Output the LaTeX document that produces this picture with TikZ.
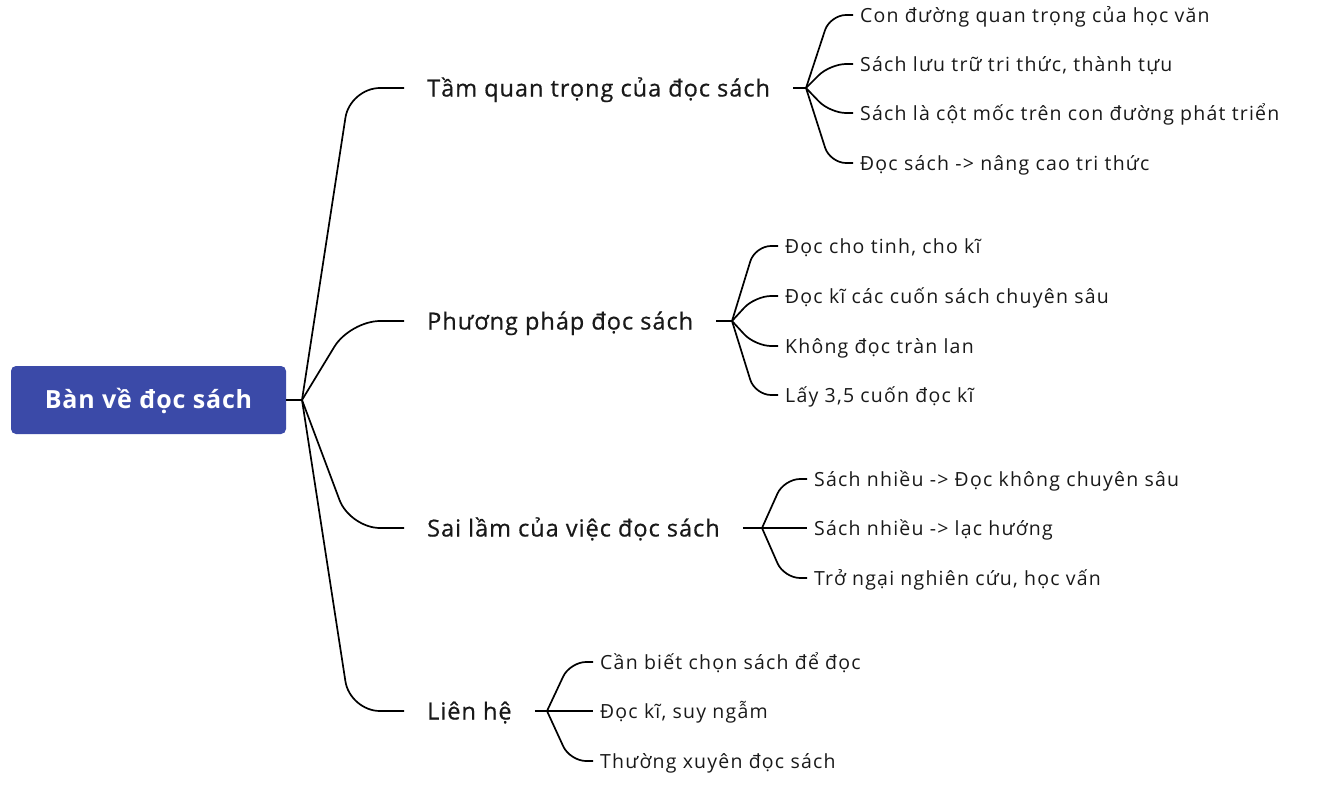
\documentclass[tikz,border=0pt]{standalone}
\usepackage{fontspec}
\setmainfont{Open Sans}
\newfontfamily\leaffont[LetterSpace=6.2]{Open Sans}
\newfontfamily\mainfont[LetterSpace=4.2,FakeBold=0.6]{Open Sans}
\newfontfamily\rootfont[LetterSpace=3.3]{Open Sans}
\usetikzlibrary{calc}
\definecolor{rootblue}{RGB}{59,74,168}
\definecolor{ink}{RGB}{25,25,25}
\tikzset{
  link/.style={line width=1.7pt, draw=black, rounded corners=30pt},
  leaflink/.style={line width=1.7pt, draw=black, rounded corners=16pt},
  rootbox/.style={fill=rootblue, rounded corners=5pt, minimum width=275pt, minimum height=68pt,
    text=white, font=\rootfont\fontsize{25}{28}\selectfont\bfseries, inner sep=0pt, text height=19pt, text depth=3pt},
  mainnode/.style={anchor=west, inner xsep=23pt, inner ysep=0pt, text=ink,
    font=\mainfont\fontsize{23.5}{26}\selectfont, text height=20pt, text depth=3pt},
  leafnode/.style={anchor=west, inner xsep=7pt, inner ysep=0pt, text=ink,
    font=\leaffont\fontsize{19.5}{23}\selectfont, text height=17pt, text depth=3pt},
}
\begin{document}
\begin{tikzpicture}[x=1pt,y=-1pt]
\useasboundingbox (0,0) rectangle (1327,787);
% root
\node[rootbox] (root) at (148.5,400) {Bàn về đọc sách};
\coordinate (jr) at (302,400);
\draw[link] (root.east) -- (jr);
% main branches
\node[mainnode] (t) at (404,88) {Tầm quan trọng của đọc sách};
\node[mainnode] (p) at (404,321) {Phương pháp đọc sách};
\node[mainnode] (s) at (404,528) {Sai lầm của việc đọc sách};
\node[mainnode] (l) at (404,711) {Liên hệ};
\foreach \n in {t,p,s,l}{
  \draw[link] (jr) -- ([xshift=-54pt]\n.west) -- (\n.west);
}
% junctions
\coordinate (jt) at (806,88);
\coordinate (jp) at (732,321);
\coordinate (js) at (762,528);
\coordinate (jl) at (547,711);
\draw[link] (t.east) -- (jt);
\draw[link] (p.east) -- (jp);
\draw[link] (s.east) -- (js);
\draw[link] (l.east) -- (jl);
% leaves of t
\node[leafnode] (t1) at (853,15) {Con đường quan trọng của học văn};
\node[leafnode] (t2) at (853,64) {Sách lưu trữ tri thức, thành tựu};
\node[leafnode] (t3) at (853,113) {Sách là cột mốc trên con đường phát triển};
\node[leafnode] (t4) at (853,163) {Đọc sách -> nâng cao tri thức};
\foreach \n in {t1,t2,t3,t4}{
  \draw[leaflink] (jt) -- ([xshift=-23pt]\n.west) -- (\n.west);
}
% leaves of p
\node[leafnode] (p1) at (778,246) {Đọc cho tinh, cho kĩ};
\node[leafnode] (p2) at (778,296) {Đọc kĩ các cuốn sách chuyên sâu};
\node[leafnode] (p3) at (778,346) {Không đọc tràn lan};
\node[leafnode] (p4) at (778,395) {Lấy 3,5 cuốn đọc kĩ};
\foreach \n in {p1,p2,p3,p4}{
  \draw[leaflink] (jp) -- ([xshift=-23pt]\n.west) -- (\n.west);
}
% leaves of s
\node[leafnode] (s1) at (807,479) {Sách nhiều -> Đọc không chuyên sâu};
\node[leafnode] (s2) at (807,528) {Sách nhiều -> lạc hướng};
\node[leafnode] (s3) at (807,578) {Trở ngại nghiên cứu, học vấn};
\foreach \n in {s1,s2,s3}{
  \draw[leaflink] (js) -- ([xshift=-23pt]\n.west) -- (\n.west);
}
% leaves of l
\node[leafnode] (l1) at (593,662) {Cần biết chọn sách để đọc};
\node[leafnode] (l2) at (593,711) {Đọc kĩ, suy ngẫm};
\node[leafnode] (l3) at (593,761) {Thường xuyên đọc sách};
\foreach \n in {l1,l2,l3}{
  \draw[leaflink] (jl) -- ([xshift=-23pt]\n.west) -- (\n.west);
}
\end{tikzpicture}
\end{document}
